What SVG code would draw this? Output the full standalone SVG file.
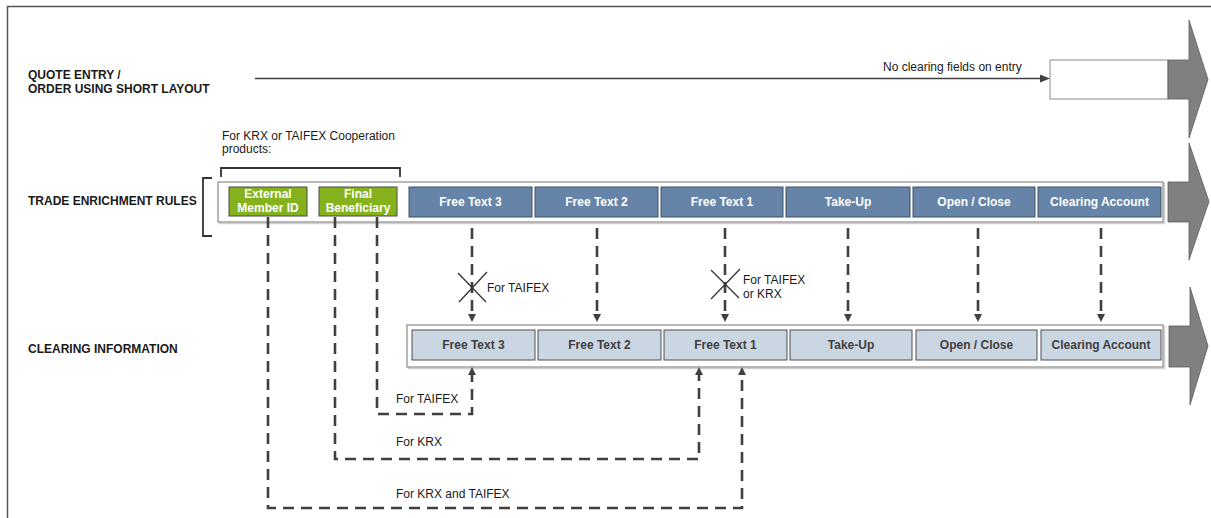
<svg xmlns="http://www.w3.org/2000/svg" width="1211" height="518" viewBox="0 0 1211 518">
<defs>
<style>
.lbl{font-family:"Liberation Sans",Arial,sans-serif;font-size:12px;font-weight:bold;fill:#1a1a1a}
.txt{font-family:"Liberation Sans",Arial,sans-serif;font-size:12px;fill:#1a1a1a}
.bt{font-family:"Liberation Sans",Arial,sans-serif;font-size:12px;font-weight:bold;fill:#ffffff;text-anchor:middle}
.ct{font-family:"Liberation Sans",Arial,sans-serif;font-size:12px;font-weight:bold;fill:#404040;text-anchor:middle}
.blue{fill:#6584A8;stroke:#3e5068;stroke-width:1}
.light{fill:#CBD6E3;stroke:#4f4f4f;stroke-width:1}
.green{fill:#85B21C;stroke:#4a4a4a;stroke-width:1}
.cont{fill:#ffffff;stroke:#8a8a8a;stroke-width:1.2}
.shadow{fill:none;stroke:#cfcfcf;stroke-width:1.5}
.big{fill:#808080;stroke:#5c5c5c;stroke-width:0.8}
.dash{fill:none;stroke:#404040;stroke-width:2.6;stroke-dasharray:11 7}
.xm{stroke:#333333;stroke-width:1.3}
.brk{fill:none;stroke:#333333;stroke-width:1.8}
</style>
<marker id="ah" viewBox="0 0 8 8" refX="0" refY="4" markerWidth="8" markerHeight="8" orient="auto" markerUnits="userSpaceOnUse">
<path d="M0,0 L8,4 L0,8 z" fill="#404040"/>
</marker>
<marker id="ah2" viewBox="0 0 10 8" refX="0" refY="4" markerWidth="10" markerHeight="8" orient="auto" markerUnits="userSpaceOnUse">
<path d="M0,0 L10,4 L0,8 z" fill="#404040"/>
</marker>
</defs>
<rect x="0" y="0" width="1211" height="518" fill="#ffffff"/>
<rect x="7.5" y="6.5" width="1215" height="525" fill="none" stroke="#555555" stroke-width="1.5"/>

<g id="row-labels">
<text class="lbl" x="28" y="79">QUOTE ENTRY /</text>
<text class="lbl" x="28" y="93">ORDER USING SHORT LAYOUT</text>
<text class="lbl" x="28" y="205">TRADE ENRICHMENT RULES</text>
<text class="lbl" x="28" y="353">CLEARING INFORMATION</text>
</g>

<g id="quote-entry">
<rect x="1050" y="60" width="118" height="39" fill="#ffffff" stroke="#8a8a8a" stroke-width="1"/>
<polygon class="big" points="1168,60 1189,60 1189,20 1208,79.5 1189,138 1189,99 1168,99"/>
<text class="txt" x="883" y="71">No clearing fields on entry</text>
</g>

<g id="trade-enrichment">
<rect class="shadow" x="219.5" y="183.5" width="945" height="40"/>
<rect class="cont" x="218" y="182" width="945" height="40"/>
<polygon class="big" points="1168,182 1189,182 1189,143 1209,201.5 1189,260 1189,222 1168,222"/>
<path class="brk" d="M212,178 H203 V236 H212"/>
<path class="brk" d="M221,177 V168 H400 V177"/>
<text class="txt" x="222" y="140">For KRX or TAIFEX Cooperation</text>
<text class="txt" x="222" y="153">products:</text>
</g>

<g id="external-member-id">
<rect class="green" x="229" y="187" width="78" height="29"/>
<text class="bt" x="268" y="198">External</text>
<text class="bt" x="268" y="212">Member ID</text>
</g>
<g id="final-beneficiary">
<rect class="green" x="319" y="187" width="78" height="29"/>
<text class="bt" x="358" y="198">Final</text>
<text class="bt" x="358" y="212">Beneficiary</text>
</g>
<g id="te-free-text-3">
<rect class="blue" x="409" y="187" width="123" height="30"/>
<text class="bt" x="470.5" y="205.5">Free Text 3</text>
</g>
<g id="te-free-text-2">
<rect class="blue" x="535" y="187" width="123" height="30"/>
<text class="bt" x="596.5" y="205.5">Free Text 2</text>
</g>
<g id="te-free-text-1">
<rect class="blue" x="661" y="187" width="122" height="30"/>
<text class="bt" x="722" y="205.5">Free Text 1</text>
</g>
<g id="te-take-up">
<rect class="blue" x="786" y="187" width="124" height="30"/>
<text class="bt" x="848" y="205.5">Take-Up</text>
</g>
<g id="te-open-close">
<rect class="blue" x="913" y="187" width="122" height="30"/>
<text class="bt" x="974" y="205.5">Open / Close</text>
</g>
<g id="te-clearing-account">
<rect class="blue" x="1038" y="187" width="123" height="30"/>
<text class="bt" x="1099.5" y="205.5">Clearing Account</text>
</g>

<g id="clearing-information">
<rect class="shadow" x="408.5" y="326.5" width="756" height="42"/>
<rect class="cont" x="407" y="325" width="756" height="42"/>
<polygon class="big" points="1169,326 1190,326 1190,287 1208,346 1190,405 1190,367 1169,367"/>
</g>
<g id="ci-free-text-3">
<rect class="light" x="412" y="330" width="123" height="30"/>
<text class="ct" x="473.5" y="349">Free Text 3</text>
</g>
<g id="ci-free-text-2">
<rect class="light" x="538" y="330" width="123" height="30"/>
<text class="ct" x="599.5" y="349">Free Text 2</text>
</g>
<g id="ci-free-text-1">
<rect class="light" x="664" y="330" width="123" height="30"/>
<text class="ct" x="725.5" y="349">Free Text 1</text>
</g>
<g id="ci-take-up">
<rect class="light" x="790" y="330" width="122" height="30"/>
<text class="ct" x="851" y="349">Take-Up</text>
</g>
<g id="ci-open-close">
<rect class="light" x="916" y="330" width="121" height="30"/>
<text class="ct" x="976.5" y="349">Open / Close</text>
</g>
<g id="ci-clearing-account">
<rect class="light" x="1041" y="330" width="120" height="30"/>
<text class="ct" x="1101" y="349">Clearing Account</text>
</g>

<g id="connectors">
<line x1="255" y1="78.5" x2="1040" y2="78.5" stroke="#404040" stroke-width="1.5" marker-end="url(#ah2)"/>
<path class="dash" d="M472,228 V314" marker-end="url(#ah)"/>
<path class="dash" d="M597,228 V314" marker-end="url(#ah)"/>
<path class="dash" d="M725,228 V314" marker-end="url(#ah)"/>
<path class="dash" d="M848,228 V314" marker-end="url(#ah)"/>
<path class="dash" d="M978,228 V314" marker-end="url(#ah)"/>
<path class="dash" d="M1101,228 V314" marker-end="url(#ah)"/>
<line class="xm" x1="458" y1="273" x2="486" y2="302"/>
<line class="xm" x1="487" y1="272" x2="459" y2="302"/>
<line class="xm" x1="711" y1="270" x2="739" y2="298"/>
<line class="xm" x1="740" y1="269" x2="711" y2="299"/>
<text class="txt" x="487" y="291.5">For TAIFEX</text>
<text class="txt" x="743" y="284">For TAIFEX</text>
<text class="txt" x="743" y="298">or KRX</text>
<path class="dash" d="M377,217 V414 H472 V375" marker-end="url(#ah)"/>
<path class="dash" d="M335,217 V459 H699 V375" marker-end="url(#ah)"/>
<path class="dash" d="M268,217 V508 H742 V375" marker-end="url(#ah)"/>
<text class="txt" x="396" y="403">For TAIFEX</text>
<text class="txt" x="396" y="446">For KRX</text>
<text class="txt" x="396" y="498">For KRX and TAIFEX</text>
</g>
</svg>
